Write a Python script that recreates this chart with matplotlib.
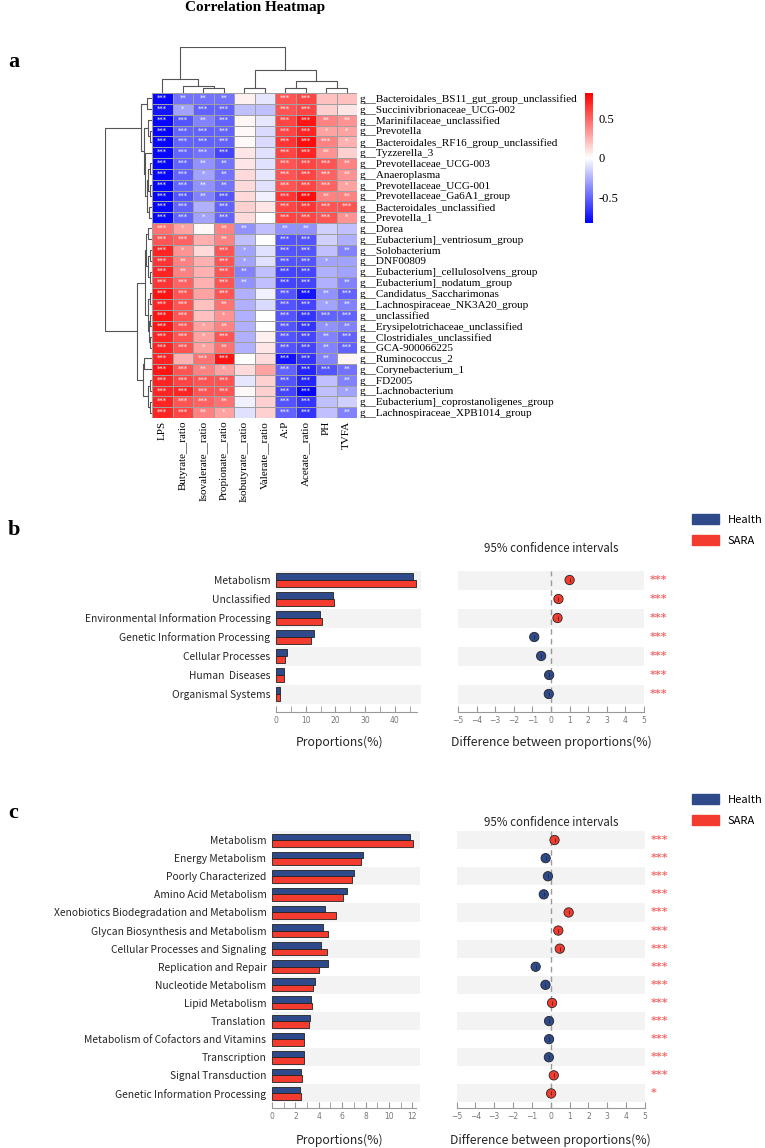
import matplotlib.pyplot as plt
import numpy as np
from matplotlib.colors import LinearSegmentedColormap
from matplotlib.patches import Patch

W, H = 765, 1148
SERIF = ["Liberation Serif", "DejaVu Serif"]
SANS = ["Noto Sans CJK SC", "DejaVu Sans"]

# ---------------- panel a: correlation heatmap ----------------
genera = ["Bacteroidales_BS11_gut_group_unclassified", "Succinivibrionaceae_UCG-002",
          "Marinifilaceae_unclassified", "Prevotella", "Bacteroidales_RF16_group_unclassified",
          "Tyzzerella_3", "Prevotellaceae_UCG-003", "Anaeroplasma", "Prevotellaceae_UCG-001",
          "Prevotellaceae_Ga6A1_group", "Bacteroidales_unclassified", "Prevotella_1", "Dorea",
          "Eubacterium]_ventriosum_group", "Solobacterium", "DNF00809",
          "Eubacterium]_cellulosolvens_group", "Eubacterium]_nodatum_group",
          "Candidatus_Saccharimonas", "Lachnospiraceae_NK3A20_group", "unclassified",
          "Erysipelotrichaceae_unclassified", "Clostridiales_unclassified", "GCA-900066225",
          "Ruminococcus_2", "Corynebacterium_1", "FD2005", "Lachnobacterium",
          "Eubacterium]_coprostanoligenes_group", "Lachnospiraceae_XPB1014_group"]
measures = ["LPS", "Butyrate__ratio", "Isovalerate__ratio", "Propionate__ratio",
            "Isobutyrate__ratio", "Valerate__ratio", "A:P", "Acetate__ratio", "PH", "TVFA"]

corr = np.array([
    [-0.80, -0.45, -0.45, -0.45, 0.05, -0.08, 0.55, 0.60, 0.20, 0.20],
    [-0.75, -0.30, -0.50, -0.50, -0.20, -0.20, 0.55, 0.60, 0.15, 0.08],
    [-0.80, -0.55, -0.40, -0.50, 0.03, -0.08, 0.60, 0.75, 0.40, 0.35],
    [-0.80, -0.50, -0.50, -0.50, 0.02, -0.12, 0.60, 0.70, 0.30, 0.30],
    [-0.80, -0.50, -0.50, -0.50, 0.02, -0.12, 0.65, 0.78, 0.40, 0.25],
    [-0.80, -0.50, -0.45, -0.60, 0.08, -0.10, 0.60, 0.70, 0.35, 0.15],
    [-0.80, -0.50, -0.35, -0.45, 0.08, -0.10, 0.55, 0.60, 0.55, 0.40],
    [-0.80, -0.50, -0.30, -0.45, 0.12, -0.08, 0.55, 0.60, 0.50, 0.35],
    [-0.80, -0.50, -0.35, -0.45, 0.12, -0.10, 0.55, 0.60, 0.50, 0.30],
    [-0.80, -0.55, -0.40, -0.55, 0.12, -0.05, 0.65, 0.78, 0.40, 0.40],
    [-0.80, -0.50, -0.25, -0.50, 0.15, 0.08, 0.60, 0.65, 0.55, 0.55],
    [-0.80, -0.50, -0.30, -0.50, 0.12, 0.00, 0.60, 0.60, 0.55, 0.35],
    [0.45, 0.30, 0.02, 0.40, -0.35, -0.20, -0.35, -0.35, -0.15, -0.20],
    [0.55, 0.50, 0.25, 0.40, -0.20, 0.00, -0.55, -0.55, -0.15, -0.25],
    [0.70, 0.35, 0.12, 0.55, -0.30, -0.10, -0.55, -0.55, -0.20, -0.40],
    [0.65, 0.40, 0.25, 0.55, -0.30, -0.10, -0.55, -0.55, -0.30, -0.30],
    [0.70, 0.40, 0.25, 0.55, -0.40, -0.20, -0.60, -0.60, -0.25, -0.30],
    [0.65, 0.50, 0.25, 0.55, -0.35, -0.20, -0.60, -0.60, -0.25, -0.40],
    [0.75, 0.55, 0.30, 0.55, -0.25, -0.05, -0.55, -0.75, -0.35, -0.50],
    [0.70, 0.55, 0.20, 0.45, -0.25, -0.12, -0.55, -0.60, -0.30, -0.40],
    [0.75, 0.55, 0.20, 0.35, -0.25, 0.00, -0.55, -0.65, -0.50, -0.50],
    [0.75, 0.55, 0.30, 0.40, -0.25, 0.00, -0.55, -0.65, -0.35, -0.40],
    [0.70, 0.55, 0.30, 0.55, -0.25, 0.05, -0.55, -0.60, -0.40, -0.50],
    [0.70, 0.55, 0.30, 0.45, -0.25, 0.08, -0.55, -0.60, -0.40, -0.50],
    [0.70, 0.25, 0.45, 0.75, 0.00, 0.12, -0.75, -0.65, -0.40, 0.03],
    [0.75, 0.55, 0.40, 0.30, 0.12, 0.30, -0.50, -0.70, -0.55, -0.45],
    [0.70, 0.60, 0.55, 0.55, -0.08, 0.15, -0.55, -0.70, -0.20, -0.40],
    [0.70, 0.70, 0.55, 0.55, 0.02, 0.15, -0.60, -0.80, -0.20, -0.30],
    [0.70, 0.55, 0.50, 0.45, -0.05, 0.15, -0.55, -0.65, -0.20, -0.15],
    [0.70, 0.60, 0.40, 0.30, -0.10, 0.15, -0.50, -0.65, -0.20, -0.40],
])

# number of significance stars per cell
stars = ["3222003300", "3133003300", "3323003322", "3333003311", "3333003331",
         "3333003320", "3322003332", "3312003332", "3322003331", "3323003322",
         "3303003333", "3313003331", "3102202200", "3302003300", "3103103302",
         "3203103310", "3203203300", "3303203302", "3303003323", "3302003312",
         "3301003333", "3312003312", "3313003323", "3312003323", "3033003320",
         "3321003332", "3333003302", "3333003301", "3332003300", "3321003302"]

# linkage (left, right, height) ; ids >= n refer to earlier merges
col_links = [(2, 3, 0.10), (1, 10, 0.16), (0, 11, 0.31), (4, 5, 0.10), (6, 7, 0.10),
             (8, 9, 0.10), (14, 15, 0.26), (13, 16, 0.49), (12, 17, 1.0)]
row_links = [(3, 4, 0.05), (2, 30, 0.08), (0, 1, 0.10), (6, 7, 0.04), (8, 9, 0.05),
             (33, 34, 0.08), (10, 11, 0.06), (35, 36, 0.11), (5, 37, 0.14),
             (31, 38, 0.17), (32, 39, 0.23),
             (12, 13, 0.08), (14, 15, 0.05), (16, 17, 0.04), (42, 43, 0.08),
             (41, 44, 0.12), (18, 19, 0.04), (20, 21, 0.04), (22, 23, 0.05),
             (47, 48, 0.07), (46, 49, 0.09), (45, 50, 0.15), (24, 25, 0.17),
             (26, 27, 0.05), (28, 29, 0.05), (53, 54, 0.08), (52, 55, 0.20),
             (51, 56, 0.32), (40, 57, 1.0)]

# ---------------- panel b: KEGG level 1 ----------------
kegg1 = ["Metabolism", "Unclassified", "Environmental Information Processing",
         "Genetic Information Processing", "Cellular Processes", "Human  Diseases",
         "Organismal Systems"]
kegg1_health = [46.1, 19.3, 14.8, 12.8, 3.6, 2.7, 1.35]
kegg1_sara = [47.1, 19.6, 15.4, 11.9, 3.0, 2.7, 1.35]
kegg1_diff = [1.0, 0.4, 0.35, -0.9, -0.53, -0.1, -0.12]
kegg1_sig = ["***"] * 7

# ---------------- panel c: KEGG level 2 ----------------
kegg2 = ["Metabolism", "Energy Metabolism", "Poorly Characterized", "Amino Acid Metabolism",
         "Xenobiotics Biodegradation and Metabolism", "Glycan Biosynthesis and Metabolism",
         "Cellular Processes and Signaling", "Replication and Repair", "Nucleotide Metabolism",
         "Lipid Metabolism", "Translation", "Metabolism of Cofactors and Vitamins",
         "Transcription", "Signal Transduction", "Genetic Information Processing"]
kegg2_health = [11.8, 7.8, 7.0, 6.45, 4.5, 4.4, 4.2, 4.75, 3.7, 3.3, 3.25, 2.75, 2.77, 2.47, 2.38]
kegg2_sara = [12.05, 7.58, 6.8, 6.1, 5.5, 4.8, 4.7, 4.0, 3.5, 3.45, 3.2, 2.7, 2.72, 2.6, 2.45]
kegg2_diff = [0.2, -0.27, -0.15, -0.37, 0.95, 0.4, 0.48, -0.8, -0.28, 0.07, -0.09, -0.09,
              -0.1, 0.16, 0.02]
kegg2_sig = ["***"] * 14 + ["*"]

BLUE = "#2e4a8b"
RED = "#f33c2f"
STAR = "#f46a6a"
TXT = "#262626"


def box(l, t, r, b):
    return [l / W, 1 - b / H, (r - l) / W, (b - t) / H]


def dendro(links, n):
    pos = {i: i + 0.5 for i in range(n)}
    hgt = {i: 0.0 for i in range(n)}
    segs = []
    for k, (a, b, h) in enumerate(links):
        segs.append(([pos[a], pos[a], pos[b], pos[b]], [hgt[a], h, h, hgt[b]]))
        pos[n + k] = (pos[a] + pos[b]) / 2
        hgt[n + k] = h
    return segs


fig = plt.figure(figsize=(W / 100, H / 100), dpi=100)

# --- heatmap ---
ax = fig.add_axes(box(152, 93, 357, 418))
cmap = LinearSegmentedColormap.from_list("bwr_", ["#0000ff", "#ffffff", "#ff0000"])
mesh = ax.pcolormesh(corr, cmap=cmap, vmin=-0.82, vmax=0.82,
                     edgecolors="#a0a0a0", linewidth=0.6)
ax.set_xlim(0, len(measures))
ax.set_ylim(len(genera), 0)
for i in range(len(genera)):
    for j in range(len(measures)):
        k = int(stars[i][j])
        if k:
            ax.text(j + 0.5, i + 0.45, "*" * k, color="white", fontsize=5,
                    ha="center", va="center")
ax.yaxis.tick_right()
ax.set_yticks(np.arange(len(genera)) + 0.5)
ax.set_yticklabels(["g__" + g for g in genera], family=SERIF, fontsize=8)
ax.set_xticks(np.arange(len(measures)) + 0.5)
ax.set_xticklabels(measures, rotation=90, family=SERIF, fontsize=8)
ax.tick_params(length=0, pad=2)
for s in ax.spines.values():
    s.set_visible(False)

axd = fig.add_axes(box(152, 47, 357, 93))
for xs, ys in dendro(col_links, len(measures)):
    axd.plot(xs, ys, color="#555555", lw=0.8)
axd.set_xlim(0, len(measures))
axd.set_ylim(0, 1.0)
axd.axis("off")

axr = fig.add_axes(box(105, 93, 152, 418))
for xs, ys in dendro(row_links, len(genera)):
    axr.plot(ys, xs, color="#555555", lw=0.8)
axr.set_ylim(len(genera), 0)
axr.set_xlim(1.0, 0)
axr.axis("off")

cax = fig.add_axes(box(585, 93, 593, 223))
cb = fig.colorbar(mesh, cax=cax, ticks=[-0.5, 0, 0.5])
cb.outline.set_visible(False)
cax.set_yticklabels(["-0.5", "0", "0.5"], family=SERIF, fontsize=9)
cax.tick_params(length=0, pad=4)

fig.text(255 / W, 1 - 8 / H, "Correlation Heatmap", family=SERIF, weight="bold",
         fontsize=11, ha="center", va="center")


# --- extended error bar panels ---
def ext_panel(names, health, sara, diff, sig, top, step, bottom, bar_l, bar_r, bar_max,
              major, minor, diff_l, diff_r, title_y, label_y, bar_h):
    n = len(names)
    ylow = n - 0.5 + (bottom - (top + n * step)) / step
    ys = np.arange(n)

    axb = fig.add_axes(box(bar_l, top, bar_r, bottom))
    for i in range(0, n, 2):
        axb.axhspan(i - 0.5, i + 0.5, color="#f3f3f3", zorder=0, lw=0)
    axb.barh(ys - bar_h / 2, health, height=bar_h, color=BLUE, edgecolor="#222222",
             lw=0.6, zorder=2)
    axb.barh(ys + bar_h / 2, sara, height=bar_h, color=RED, edgecolor="#222222",
             lw=0.6, zorder=2)
    axb.set_ylim(ylow, -0.5)
    axb.set_xlim(0, bar_max)
    axb.set_yticks(ys)
    axb.set_yticklabels(names, family=SANS, fontsize=7.4, color=TXT, weight="medium")
    axb.tick_params(axis="y", length=0, pad=4)
    axb.set_xticks(np.arange(0, bar_max, major))
    axb.set_xticks(np.arange(0, bar_max, minor), minor=True)
    axb.tick_params(axis="x", which="both", direction="in", length=4, color="#999999",
                    labelsize=5.5, labelcolor="#777777", pad=3)
    for s in ["top", "right", "left"]:
        axb.spines[s].set_visible(False)
    axb.spines["bottom"].set_color("#999999")
    axb.spines["bottom"].set_bounds(0, bar_max - minor * 0.3)

    axe = fig.add_axes(box(diff_l, top, diff_r, bottom))
    for i in range(0, n, 2):
        axe.axhspan(i - 0.5, i + 0.5, color="#f3f3f3", zorder=0, lw=0)
    axe.axvline(0, color="#999999", ls=(0, (4, 3)), lw=1.0, zorder=1)
    cols = [RED if d > 0 else BLUE for d in diff]
    axe.scatter(diff, ys, s=45, c=cols, edgecolors="#222222", linewidths=0.6, zorder=3)
    axe.scatter(diff, ys, s=12, marker="|", c="#222222", linewidths=0.5, zorder=4)
    for i, t in enumerate(sig):
        axe.text(1.03, i, t, color=STAR, fontsize=8, weight="bold", va="center",
                 ha="left", transform=axe.get_yaxis_transform())
    axe.set_ylim(ylow, -0.5)
    axe.set_xlim(-5, 5)
    axe.set_yticks([])
    axe.set_xticks(np.arange(-5, 6, 1))
    axe.tick_params(axis="x", direction="in", length=4, color="#999999",
                    labelsize=5.5, labelcolor="#777777", pad=3)
    for s in ["top", "right", "left"]:
        axe.spines[s].set_visible(False)
    axe.spines["bottom"].set_color("#999999")

    fig.text((diff_l + diff_r) / 2 / W, 1 - title_y / H, "95% confidence intervals",
             family=SANS, fontsize=8.3, color=TXT, weight="medium",
             ha="center", va="center")
    fig.text(340 / W, 1 - label_y / H, "Proportions(%)", family=SANS, fontsize=8.8,
             color=TXT, weight="medium", ha="center", va="center")
    fig.text((diff_l + diff_r) / 2 / W, 1 - label_y / H,
             "Difference between proportions(%)", family=SANS, fontsize=8.8,
             color=TXT, weight="medium", ha="center", va="center")


ext_panel(kegg1, kegg1_health, kegg1_sara, kegg1_diff, kegg1_sig,
          top=570.5, step=19, bottom=712, bar_l=276, bar_r=421, bar_max=48.8,
          major=10, minor=5, diff_l=458, diff_r=644, title_y=549, label_y=742, bar_h=0.36)
ext_panel(kegg2, kegg2_health, kegg2_sara, kegg2_diff, kegg2_sig,
          top=831, step=18.1, bottom=1108, bar_l=272, bar_r=420, bar_max=12.65,
          major=2, minor=1, diff_l=456.5, diff_r=645, title_y=822, label_y=1140, bar_h=0.36)

handles = [Patch(facecolor=BLUE, edgecolor=BLUE), Patch(facecolor=RED, edgecolor=RED)]
for ytop in [510, 790]:
    fig.legend(handles, ["Health", "SARA"], loc="upper left",
               bbox_to_anchor=(688 / W, 1 - ytop / H), frameon=False,
               prop={"family": SANS, "size": 8}, handlelength=2.4, handleheight=1.0,
               labelspacing=0.9, handletextpad=0.8, borderaxespad=0)

for lab, y in [("a", 62), ("b", 530), ("c", 813)]:
    fig.text(8 / W, 1 - y / H, lab, family=SERIF, weight="bold", fontsize=16,
             ha="left", va="center")

fig.savefig("out.png", dpi=100)
